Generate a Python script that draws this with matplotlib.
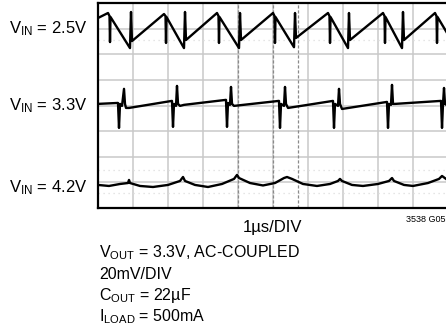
import matplotlib
matplotlib.use("Agg")
import matplotlib.pyplot as plt

plt.rcParams['font.family'] = ['Liberation Sans', 'DejaVu Sans']
plt.rcParams['mathtext.fontset'] = 'custom'
plt.rcParams['mathtext.rm'] = 'Liberation Sans'
plt.rcParams['mathtext.it'] = 'Liberation Sans'

# ===== データ (時間 µs, 電圧 mV, AC結合) =====
labels = ["V$_{\\mathrm{IN}}$ = 2.5V", "V$_{\\mathrm{IN}}$ = 3.3V", "V$_{\\mathrm{IN}}$ = 4.2V"]

t_25 = [0.0, 0.286, 0.329, 0.343, 0.357, 0.914, 0.943, 0.971,
        1.886, 1.929, 1.943, 1.957, 2.457, 2.486, 2.514,
        3.400, 3.443, 3.457, 3.471, 4.029, 4.057, 4.086,
        5.000, 5.043, 5.057, 5.071, 5.600, 5.629, 5.657,
        6.571, 6.614, 6.629, 6.643, 7.143, 7.171, 7.200,
        8.143, 8.186, 8.200, 8.214, 8.686, 8.714, 8.743,
        9.629, 9.671, 9.686, 9.700, 10.23]
v_25 = [8.3, 12.2, 9.8, -10.5, 9.1, -15.2, 13.0, -9.7,
        11.4, 9.8, -11.2, 9.1, -15.2, 13.0, -8.9,
        12.2, 9.8, -11.2, 9.1, -15.2, 12.2, -8.9,
        12.2, 9.8, -11.2, 9.1, -14.5, 12.2, -7.3,
        12.2, 9.8, -11.2, 9.1, -15.2, 12.2, -8.9,
        12.2, 9.8, -11.2, 9.1, -15.2, 13.0, -8.9,
        12.2, 9.8, -11.2, 9.1, -15.2]

t_33 = [0.0, 0.571, 0.600, 0.629, 0.686, 0.743, 0.771, 0.800, 0.886,
        2.114, 2.143, 2.171, 2.229, 2.257, 2.286, 2.343, 2.457,
        3.657, 3.686, 3.714, 3.771, 3.800, 3.829, 3.886,
        5.171, 5.200, 5.229, 5.314, 5.343, 5.371, 5.429,
        6.714, 6.743, 6.771, 6.857, 6.886, 6.914, 6.971,
        8.257, 8.286, 8.314, 8.371, 8.400, 8.429, 8.486,
        9.800, 9.829, 9.857, 9.886, 9.914, 10.0]
v_33 = [1.25, 2.0, -17.5, 1.25, -0.3, 13.0, 1.25, -1.9, -1.9,
        3.6, -16.7, 1.25, -0.3, 15.3, 1.25, -0.3, 0.5,
        4.4, -16.7, 2.0, 0.5, 14.5, 1.25, -0.3,
        3.6, -17.5, 1.25, -0.3, 14.5, 1.25, -1.9,
        3.6, -17.5, 1.25, -0.3, 13.0, 1.25, -2.7,
        2.8, -17.5, 1.25, 0.5, 16.1, 1.25, 1.25,
        3.6, -17.5, 1.25, 13.7, 1.25, -0.3]

t_42 = [0.0, 0.314, 0.629, 0.857, 0.886, 0.914, 1.200, 1.571, 2.000,
        2.343, 2.429, 2.486, 2.771, 3.143, 3.543, 3.886, 3.971, 4.029,
        4.343, 4.714, 5.057, 5.314, 5.400, 5.543, 5.857, 6.257, 6.629,
        6.857, 6.914, 6.971, 7.257, 7.571, 8.000, 8.314, 8.400, 8.457,
        8.743, 9.000, 9.429, 9.743, 9.829, 9.943]
v_42 = [-2.0, -2.8, -1.25, -0.5, 1.9, -0.5, -2.8, -3.6, -2.0,
        1.1, 4.2, 1.1, -2.0, -3.6, -1.25, 2.7, 5.8, 3.4,
        -0.5, -2.4, -0.5, 3.4, 4.2, 2.7, -1.25, -2.8, -1.25,
        1.1, 2.7, 1.1, -2.0, -2.8, -1.25, 1.1, 3.4, 1.1,
        -2.0, -2.8, -0.5, 2.7, 5.0, 2.7]

cursor_t = [4.0, 5.0, 5.71]

MV_PER_DIV = 20.0


def main():
    fig = plt.figure(figsize=(4.46, 3.29), dpi=100)
    ax = fig.add_axes([98 / 446, 1 - 208 / 329, 350 / 446, 205 / 329])

    # --- グリッド ---
    for x in range(1, 10):
        ax.axvline(x, color="#c9c9c9", lw=1.1, zorder=1)
    for y in range(1, 8):
        ax.axhline(y, color="#c9c9c9", lw=1.1, zorder=1)
    for y in [6.56, 1.48, 0.59]:
        ax.axhline(y, color="#dddddd", lw=0.9, ls=(0, (1, 3)), zorder=1)
    for x in cursor_t:
        ax.axvline(x, color="#8a8a8a", lw=0.9, ls=(0, (2.5, 1.5)), zorder=2)

    # --- 波形 ---
    traces = [(t_25, v_25, 7), (t_33, v_33, 4), (t_42, v_42, 1)]
    for t, v, off in traces:
        ax.plot(t, [off + val / MV_PER_DIV for val in v], color="black",
                lw=1.7, solid_joinstyle="round", zorder=3)

    ax.set_xlim(0, 10)
    ax.set_ylim(0, 8)
    ax.set_xticks([])
    ax.set_yticks([])
    for s in ax.spines.values():
        s.set_linewidth(1.6)
        s.set_color("black")

    # --- ラベル ---
    for lab, yb in zip(labels, [33, 110, 192]):
        fig.text(87 / 446, 1 - yb / 329, lab, ha="right", va="baseline", fontsize=12)

    fig.text(273 / 446, 1 - 232 / 329, "1\u00b5s/DIV", ha="center", va="baseline", fontsize=12)
    fig.text(445 / 446, 1 - 222 / 329, "3538 G05", ha="right", va="baseline", fontsize=6.5)

    notes = ["V$_{\\mathrm{OUT}}$ = 3.3V, AC-COUPLED", "20mV/DIV",
             "C$_{\\mathrm{OUT}}$ = 22\u00b5F", "I$_{\\mathrm{LOAD}}$ = 500mA"]
    for lab, yb in zip(notes, [257, 279, 300, 321]):
        fig.text(99 / 446, 1 - yb / 329, lab, ha="left", va="baseline", fontsize=11.5)

    fig.savefig("out.png", dpi=100)


if __name__ == "__main__":
    main()
